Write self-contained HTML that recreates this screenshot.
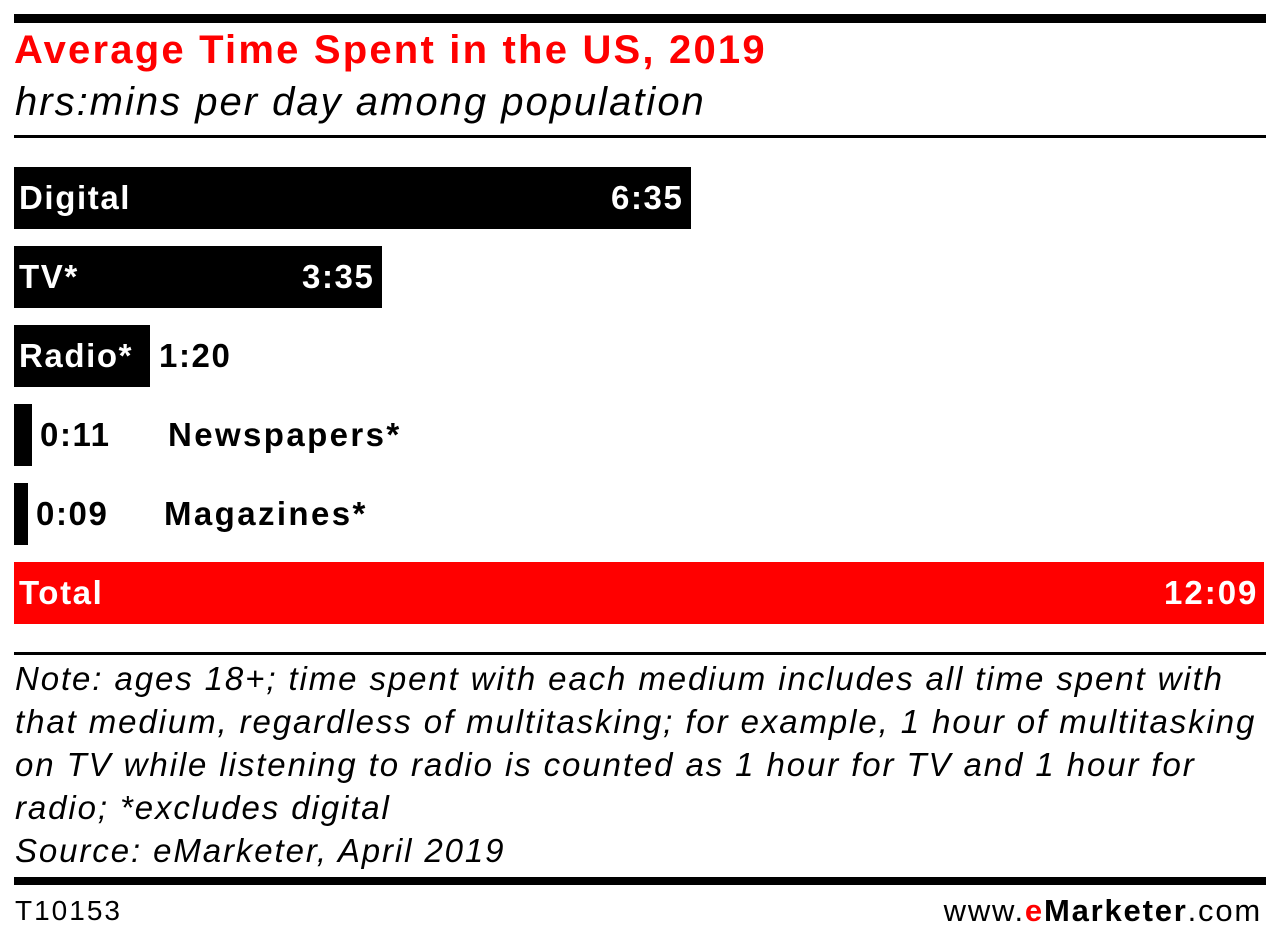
<!DOCTYPE html>
<html><head><meta charset="utf-8"><style>
body{margin:0;width:1280px;height:945px;background:#fff;position:relative;font-family:"Liberation Sans",sans-serif;overflow:hidden}
div{position:absolute}
.b{background:#000}
.t{white-space:nowrap;font-weight:bold;font-size:33px;line-height:33px;letter-spacing:1.6px}
.w{color:#fff}
.n{font-style:italic;font-size:33px;left:15px;white-space:nowrap;line-height:43px;letter-spacing:1.9px}
</style></head><body>
<div class="b" style="left:14px;top:14px;width:1252px;height:9px"></div>
<div style="left:14px;top:28px;color:#f00;font-weight:bold;font-size:40px;line-height:44px;white-space:nowrap;letter-spacing:2.2px">Average Time Spent in the US, 2019</div>
<div style="left:15px;top:80px;font-style:italic;font-size:40px;line-height:44px;white-space:nowrap;letter-spacing:2px">hrs:mins per day among population</div>
<div class="b" style="left:14px;top:135px;width:1252px;height:3px"></div>

<div class="b" style="left:14px;top:167px;width:677px;height:62px"></div>
<div class="t w" style="left:19px;top:181px">Digital</div>
<div class="t w" style="left:611px;top:181px">6:35</div>

<div class="b" style="left:14px;top:246px;width:368px;height:62px"></div>
<div class="t w" style="left:19px;top:260px">TV*</div>
<div class="t w" style="left:302px;top:260px">3:35</div>

<div class="b" style="left:14px;top:325px;width:136px;height:62px"></div>
<div class="t w" style="left:19px;top:339px">Radio*</div>
<div class="t" style="left:159px;top:339px">1:20</div>

<div class="b" style="left:14px;top:404px;width:18px;height:62px"></div>
<div class="t" style="left:40px;top:418px">0:11</div>
<div class="t" style="left:168px;top:418px;letter-spacing:2.4px">Newspapers*</div>

<div class="b" style="left:14px;top:483px;width:14px;height:62px"></div>
<div class="t" style="left:36px;top:497px">0:09</div>
<div class="t" style="left:164px;top:497px;letter-spacing:2.4px">Magazines*</div>

<div style="left:14px;top:562px;width:1250px;height:62px;background:#f00"></div>
<div class="t w" style="left:19px;top:576px">Total</div>
<div class="t w" style="left:1164px;top:576px;letter-spacing:2px">12:09</div>

<div class="b" style="left:14px;top:652px;width:1252px;height:3px"></div>
<div class="n" style="top:657px">Note: ages 18+; time spent with each medium includes all time spent with<br>that medium, regardless of multitasking; for example, 1 hour of multitasking<br>on TV while listening to radio is counted as 1 hour for TV and 1 hour for<br>radio; *excludes digital<br>Source: eMarketer, April 2019</div>
<div class="b" style="left:14px;top:877px;width:1252px;height:8px"></div>
<div style="left:15px;top:896px;font-size:28px;line-height:30px;letter-spacing:2px">T10153</div>
<div style="right:18px;top:895px;font-size:31px;line-height:32px;white-space:nowrap;letter-spacing:1.8px">www.<span style="color:#f00;font-weight:bold">e</span><b>Marketer</b>.com</div>
</body></html>
